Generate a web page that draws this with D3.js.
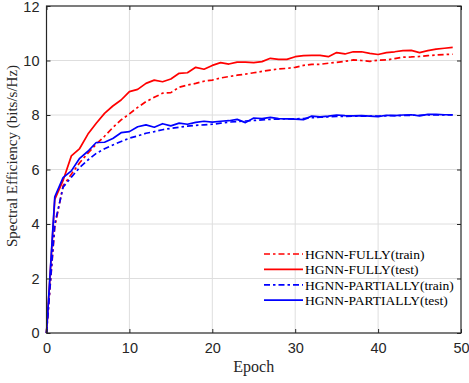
<!DOCTYPE html>
<html>
<head>
<meta charset="utf-8">
<script src="https://cdn.jsdelivr.net/npm/d3@7"></script>
<style>
  html, body { margin: 0; padding: 0; background: #fff; }
  svg { display: block; font-family: "Liberation Serif", "Times New Roman", serif; }
</style>
</head>
<body>
<div id="chart"></div>
<script>
// data, one value per epoch (0..49)
const epochs = d3.range(0, 50);
const fullyTrain = [0, 3.9, 5.4, 5.83, 6.25, 6.6, 6.93, 7.22, 7.54, 7.82,
    8.04, 8.28, 8.49, 8.65, 8.80, 8.82, 9.02, 9.10, 9.16, 9.24,
    9.28, 9.36, 9.41, 9.46, 9.50, 9.55, 9.60, 9.65, 9.69, 9.71,
    9.75, 9.82, 9.86, 9.86, 9.90, 9.93, 9.97, 10.02, 10.0, 9.97,
    10.01, 10.02, 10.07, 10.12, 10.13, 10.15, 10.18, 10.20, 10.22, 10.23];
const fullyTest = [0, 4.9, 5.6, 6.5, 6.77, 7.3, 7.7, 8.06, 8.33, 8.55,
    8.86, 8.94, 9.16, 9.28, 9.22, 9.32, 9.53, 9.55, 9.75, 9.68,
    9.82, 9.92, 9.87, 9.94, 9.94, 9.92, 9.96, 10.08, 10.04, 10.04,
    10.14, 10.18, 10.19, 10.19, 10.14, 10.29, 10.24, 10.32, 10.32, 10.26,
    10.22, 10.29, 10.32, 10.36, 10.37, 10.29, 10.36, 10.42, 10.45, 10.48];
const partTrain = [0, 4.0, 5.35, 5.72, 6.07, 6.35, 6.59, 6.76, 6.9, 7.03,
    7.15, 7.23, 7.33, 7.39, 7.46, 7.51, 7.55, 7.59, 7.62, 7.64,
    7.66, 7.70, 7.74, 7.76, 7.78, 7.80, 7.82, 7.84, 7.85, 7.86,
    7.86, 7.87, 7.90, 7.92, 7.93, 7.95, 7.95, 7.96, 7.96, 7.96,
    7.96, 7.97, 7.98, 7.98, 7.99, 7.99, 8.0, 8.0, 8.0, 8.0];
const partTest = [0, 5.0, 5.7, 5.95, 6.41, 6.67, 6.99, 7.0, 7.14, 7.35,
    7.39, 7.57, 7.64, 7.55, 7.68, 7.60, 7.70, 7.66, 7.73, 7.77,
    7.74, 7.77, 7.79, 7.84, 7.72, 7.89, 7.87, 7.91, 7.87, 7.86,
    7.85, 7.83, 7.96, 7.93, 7.96, 8.0, 7.98, 7.97, 7.98, 7.96,
    7.94, 7.99, 7.98, 8.0, 8.01, 7.97, 8.02, 8.02, 8.01, 8.01];
const xTicks = [0, 10, 20, 30, 40, 50];
const yTicks = [0, 2, 4, 6, 8, 10, 12];

const seriesNames = ["HGNN-FULLY(train)", "HGNN-FULLY(test)", "HGNN-PARTIALLY(train)", "HGNN-PARTIALLY(test)"];
const seriesColors = ["#ff0000", "#ff0000", "#0000ff", "#0000ff"];
const seriesDashed = [true, false, true, false];
const seriesValues = [fullyTrain, fullyTest, partTrain, partTest];

const width = 469, height = 383;
const margin = { top: 6, right: 8, bottom: 50, left: 46.5 };
const axisColor = "#262626";

const svg = d3.select("#chart").append("svg")
    .attr("width", width)
    .attr("height", height);

const x = d3.scaleLinear().domain([0, 50]).range([margin.left, width - margin.right]);
const y = d3.scaleLinear().domain([0, 12]).range([height - margin.bottom, margin.top]);

// grid
svg.append("g")
    .selectAll("line.gx")
    .data(xTicks.slice(1, -1))
    .join("line")
    .attr("x1", (d) => x(d)).attr("x2", (d) => x(d))
    .attr("y1", y(0)).attr("y2", y(12))
    .attr("stroke", "#dedede").attr("stroke-width", 1);

svg.append("g")
    .selectAll("line.gy")
    .data(yTicks.slice(1, -1))
    .join("line")
    .attr("x1", x(0)).attr("x2", x(50))
    .attr("y1", (d) => y(d)).attr("y2", (d) => y(d))
    .attr("stroke", "#dedede").attr("stroke-width", 1);

// lines
const line = d3.line()
    .x((d, i) => x(epochs[i]))
    .y((d) => y(d));

seriesValues.forEach((vals, k) => {
    svg.append("path")
        .datum(vals)
        .attr("fill", "none")
        .attr("stroke", seriesColors[k])
        .attr("stroke-width", 1.7)
        .attr("stroke-linejoin", "round")
        .attr("stroke-dasharray", seriesDashed[k] ? "6,3,2.5,3" : null)
        .attr("d", line);
});

// axes, ticks pointing inward
function styleAxis(g) {
    g.select(".domain").remove();
    g.selectAll(".tick line").attr("stroke", axisColor);
    g.selectAll(".tick text").attr("fill", axisColor).style("font-size", "14.5px");
}

svg.append("g")
    .attr("transform", `translate(0,${y(0)})`)
    .call(d3.axisBottom(x).tickValues(xTicks).tickSize(-4).tickPadding(10))
    .call(styleAxis);

const yAxis = svg.append("g")
    .attr("transform", `translate(${x(0)},0)`)
    .call(d3.axisLeft(y).tickValues(yTicks).tickSize(-4).tickPadding(7))
    .call(styleAxis);
// keep the top label inside the page
yAxis.selectAll(".tick text").filter((d) => d === 12).attr("dy", "0.4em");

svg.append("g")
    .attr("transform", `translate(0,${y(12)})`)
    .call(d3.axisTop(x).tickValues(xTicks).tickSize(-4).tickFormat(""))
    .call(styleAxis);

svg.append("g")
    .attr("transform", `translate(${x(50)},0)`)
    .call(d3.axisRight(y).tickValues(yTicks).tickSize(-4).tickFormat(""))
    .call(styleAxis);

// box
svg.append("rect")
    .attr("x", x(0)).attr("y", y(12))
    .attr("width", x(50) - x(0)).attr("height", y(0) - y(12))
    .attr("fill", "none")
    .attr("stroke", axisColor)
    .attr("stroke-width", 1.2);

// axis titles
svg.append("text")
    .attr("x", (x(0) + x(50)) / 2)
    .attr("y", 372)
    .attr("text-anchor", "middle")
    .attr("fill", axisColor)
    .style("font-size", "16px")
    .text("Epoch");

svg.append("text")
    .attr("transform", "translate(17,156) rotate(-90)")
    .attr("text-anchor", "middle")
    .attr("fill", axisColor)
    .style("font-size", "15px")
    .text("Spectral Efficiency (bits/s/Hz)");

// legend
const legend = svg.append("g").attr("transform", "translate(264,254)");
seriesNames.forEach((name, k) => {
    const row = legend.append("g").attr("transform", `translate(0,${k * 15.4})`);
    row.append("line")
        .attr("x1", 0).attr("x2", 39)
        .attr("stroke", seriesColors[k])
        .attr("stroke-width", 1.7)
        .attr("stroke-dasharray", seriesDashed[k] ? "6,3,2.5,3" : null);
    row.append("text")
        .attr("x", 41)
        .attr("dy", "0.35em")
        .attr("fill", "#000")
        .style("font-size", "13.5px")
        .text(name);
});
</script>
</body>
</html>
